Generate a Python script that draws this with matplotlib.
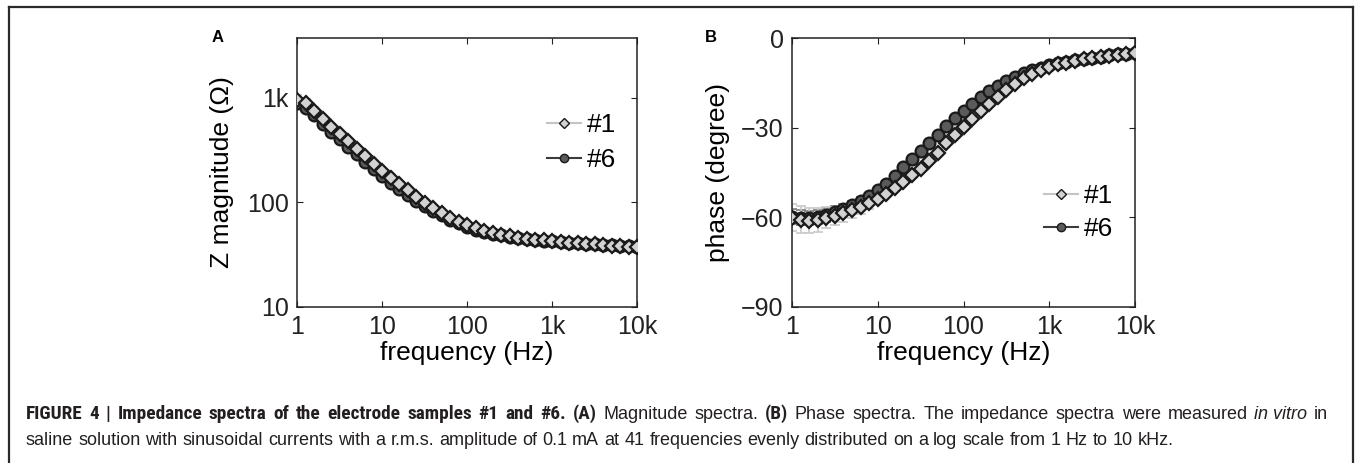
import numpy as np
import matplotlib
matplotlib.use("Agg")
import matplotlib.pyplot as plt
from matplotlib import font_manager
from matplotlib.lines import Line2D

# ---------------- data ----------------
freq = np.logspace(0, 4, 41)  # 41 frequencies, 1 Hz .. 10 kHz (log-spaced, as stated in caption)

mag_s1 = [960, 890, 752, 630, 527, 451, 386, 325, 276, 234,
          199, 172, 149, 130, 113, 99, 89, 79, 71, 65.5,
          60.3, 56.5, 53.5, 51, 49, 47.3, 46, 44.9, 44, 43.2,
          42.5, 41.8, 41.2, 40.6, 40.1, 39.6, 39.1, 38.6, 38.1, 37.6, 37.2]
mag_s6 = [880, 800, 680, 565, 470, 400, 340, 287, 243, 207,
          177, 153, 134, 117, 103, 92, 83, 75, 68, 63,
          58.5, 55, 52.5, 50.2, 48.4, 46.8, 45.6, 44.6, 43.7, 43,
          42.3, 41.7, 41.1, 40.6, 40.1, 39.7, 39.3, 38.9, 38.5, 38.2, 37.8]
mag_err1 = [90, 85, 60, 45, 35, 28, 22, 18, 14, 11,
            8, 6, 5, 4, 3, 2.5, 2, 1.5, 1.2, 1,
            0.9, 0.8, 0.8, 0.7, 0.7, 0.6, 0.6, 0.6, 0.5, 0.5,
            0.5, 0.5, 0.5, 0.5, 0.5, 0.5, 0.5, 0.5, 0.5, 0.5, 0.5]
mag_err6 = [50, 45, 35, 28, 22, 18, 14, 11, 9, 7,
            5, 4, 3, 2.5, 2, 1.6, 1.3, 1.1, 0.9, 0.8,
            0.7, 0.6, 0.6, 0.5, 0.5, 0.5, 0.5, 0.5, 0.4, 0.4,
            0.4, 0.4, 0.4, 0.4, 0.4, 0.4, 0.4, 0.4, 0.4, 0.4, 0.4]

ph_s1 = [-60.1, -60.8, -61.1, -60.8, -60.1, -59.4, -58.6, -57.7, -56.6, -55.3,
         -53.8, -52.1, -50.2, -48.2, -46.0, -43.7, -41.2, -38.6, -35.2, -32.4,
         -29.9, -27.1, -24.5, -22.1, -19.6, -17.4, -15.4, -13.4, -12.0, -10.7,
         -9.6, -8.8, -8.2, -7.6, -7.1, -6.7, -6.3, -5.9, -5.6, -5.3, -5.0]
ph_s6 = [-59.8, -60.2, -60.3, -59.9, -59.2, -58.3, -57.2, -56.0, -54.6, -52.9,
         -51.0, -48.8, -46.1, -43.3, -40.4, -37.9, -35.2, -32.4, -29.5, -26.9,
         -24.3, -22.1, -19.8, -17.7, -15.9, -14.5, -12.9, -11.7, -10.7, -9.9,
         -9.2, -8.5, -8.0, -7.5, -7.0, -6.6, -6.2, -5.8, -5.5, -5.2, -4.9]
ph_err1 = [4.5, 4.5, 4.3, 4.0, 3.5, 3.0, 2.8, 2.6, 2.4, 2.0,
           1.5, 1.2, 1.0, 0.9, 0.8, 0.7, 0.7, 0.6, 0.6, 0.5,
           0.5, 0.5, 0.5, 0.5, 0.5, 0.5, 0.5, 0.5, 0.5, 0.5,
           0.5, 0.5, 0.5, 0.5, 0.5, 0.5, 0.5, 0.5, 0.5, 0.5, 0.5]
ph_err6 = [2.5, 2.5, 2.4, 2.3, 2.2, 2.0, 1.8, 1.6, 1.4, 1.2,
           1.0, 0.9, 0.8, 0.7, 0.6, 0.6, 0.5, 0.5, 0.5, 0.4,
           0.4, 0.4, 0.4, 0.4, 0.4, 0.4, 0.4, 0.4, 0.4, 0.4,
           0.4, 0.4, 0.4, 0.4, 0.4, 0.4, 0.4, 0.4, 0.4, 0.4, 0.4]

series_labels = ["#1", "#6"]
x_ticks = [1, 10, 100, 1000, 10000]
x_ticklabels = ["1", "10", "100", "1k", "10k"]
magA_ticks = [10, 100, 1000]
magA_ticklabels = ["10", "100", "1k"]
ph_ticks = [-90, -60, -30, 0]
ph_ticklabels = ["\u221290", "\u221260", "\u221230", "0"]

# caption pieces: (text, kind) with kind in bold / normal / italic
caption_header = "FIGURE 4 | Impedance spectra of the electrode samples #1 and #6."
caption_line1 = [
    (caption_header, "bold"),
    ("(A)", "bold"),
    ("Magnitude spectra.", "normal"),
    ("(B)", "bold"),
    ("Phase spectra. The impedance spectra were measured", "normal"),
    ("in vitro", "italic"),
    ("in", "normal"),
]
caption_line2 = [
    ("saline solution with sinusoidal currents with a r.m.s. amplitude of 0.1 mA at 41 "
     "frequencies evenly distributed on a log scale from 1 Hz to 10 kHz.", "normal"),
]

# ---------------- style ----------------
W, H = 1355, 463
plt.rcParams["font.family"] = ["Liberation Sans", "DejaVu Sans"]
names = {f.name for f in font_manager.fontManager.ttflist}
bold_family = "Liberation Sans"
for cand in ["Roboto Condensed", "Liberation Sans Narrow", "Open Sans Condensed"]:
    if cand in names:
        bold_family = cand
        break
body_family = "Liberation Sans"

c1_line, c1_face, c1_err = "#c4c4c4", "#d2d2d2", "#c8c8c8"
c6_line, c6_face, c6_err = "#3c3c3c", "#5a5a5a", "#7a7a7a"
edge = "#1a1a1a"
TICK_FS = 18
LABEL_FS = 19

fig = plt.figure(figsize=(W / 100, H / 100), dpi=100)

def px_axes(l, t, r, b):
    return fig.add_axes([l / W, 1 - b / H, (r - l) / W, (b - t) / H])

axA = px_axes(297, 38, 637, 307)
axB = px_axes(792, 38, 1135, 307)

def style_axes(ax):
    for s in ax.spines.values():
        s.set_linewidth(1.1)
        s.set_color("#222222")
    ax.tick_params(which="both", direction="in", top=True, right=True,
                   length=4, width=0.8, colors="#222222", labelsize=TICK_FS, pad=6)
    ax.tick_params(which="minor", length=0)

def plot_series(ax, y1, e1, y6, e6):
    ax.errorbar(freq, y6, yerr=e6, fmt="none", ecolor=c6_err, elinewidth=1.2,
                capsize=3.5, capthick=1.2, zorder=2)
    ax.errorbar(freq, y1, yerr=e1, fmt="none", ecolor=c1_err, elinewidth=1.2,
                capsize=3.5, capthick=1.2, zorder=2)
    ax.plot(freq, y6, "-", color=c6_line, lw=1.5, marker="o", ms=8.5,
            mfc=c6_face, mec=edge, mew=1.6, zorder=3)
    ax.plot(freq, y1, "-", color=c1_line, lw=1.5, marker="D", ms=7.5,
            mfc=c1_face, mec=edge, mew=1.6, zorder=4)

# Panel A
plot_series(axA, mag_s1, mag_err1, mag_s6, mag_err6)
axA.set_xscale("log")
axA.set_yscale("log")
axA.set_xlim(1, 10000)
axA.set_ylim(10, 10 ** 3.57)
axA.set_xticks(x_ticks)
axA.set_xticklabels(x_ticklabels)
axA.set_yticks(magA_ticks)
axA.set_yticklabels(magA_ticklabels)
axA.minorticks_off()
style_axes(axA)
axA.set_xlabel("frequency (Hz)", fontsize=LABEL_FS, labelpad=1)
axA.set_ylabel("Z magnitude (\u03a9)", fontsize=LABEL_FS, labelpad=9)

# Panel B
plot_series(axB, ph_s1, ph_err1, ph_s6, ph_err6)
axB.set_xscale("log")
axB.set_xlim(1, 10000)
axB.set_ylim(-90, 0)
axB.set_xticks(x_ticks)
axB.set_xticklabels(x_ticklabels)
axB.set_yticks(ph_ticks)
axB.set_yticklabels(ph_ticklabels)
axB.minorticks_off()
style_axes(axB)
axB.set_xlabel("frequency (Hz)", fontsize=LABEL_FS, labelpad=1)
axB.set_ylabel("phase (degree)", fontsize=LABEL_FS, labelpad=8)

# legends
def make_legend(ax, x_px, y_px, spacing):
    h1 = Line2D([], [], color=c1_line, lw=1.5, marker="D", ms=5, mfc=c1_face, mec=edge, mew=1)
    h6 = Line2D([], [], color=c6_line, lw=1.5, marker="o", ms=6, mfc=c6_face, mec=edge, mew=1)
    ax.legend([h1, h6], series_labels, loc="upper left",
              bbox_to_anchor=(x_px / W, 1 - y_px / H), bbox_transform=fig.transFigure,
              frameon=False, fontsize=LABEL_FS, handlelength=1.3, handletextpad=0.2,
              borderpad=0, borderaxespad=0, labelspacing=spacing)

make_legend(axA, 547, 113, 0.42)
make_legend(axB, 1044, 184, 0.36)

# panel letters
fig.text(218 / W, 1 - 38 / H, "A", fontsize=12, fontweight="bold", ha="center", va="center")
fig.text(711 / W, 1 - 38 / H, "B", fontsize=12, fontweight="bold", ha="center", va="center")

# frame around the figure
fr_kw = dict(color="#2a2a2a", lw=1.6, transform=fig.transFigure, clip_on=False)
fig.add_artist(Line2D([9 / W, 9 / W], [1 - 7 / H, 0], **fr_kw))
fig.add_artist(Line2D([9 / W, 1353 / W], [1 - 7 / H, 1 - 7 / H], **fr_kw))
fig.add_artist(Line2D([1353 / W, 1353 / W], [1 - 7 / H, 0], **fr_kw))

# ---------------- caption ----------------
renderer = fig.canvas.get_renderer()

def kind_props(kind, sizes):
    if kind == "bold":
        return dict(family=bold_family, fontweight="bold", fontsize=sizes["bold"])
    if kind == "italic":
        return dict(family=body_family, fontstyle="italic", fontsize=sizes["body"])
    return dict(family=body_family, fontsize=sizes["body"])

def width_of(s, props):
    t = fig.text(0, 0, s, **props)
    w = t.get_window_extent(renderer).width
    t.remove()
    return w

# fit sizes: bold header ~513 px, body line 2 ~1148 px
probe = {"bold": 10.0, "body": 10.0}
s_bold = 10.0 * 513.0 / width_of(caption_header, kind_props("bold", probe))
s_body = 10.0 * 1148.0 / width_of(caption_line2[0][0], kind_props("normal", probe))
sizes = {"bold": s_bold, "body": s_body}

def words_of(pieces):
    out = []
    for s, kind in pieces:
        if kind == "italic":
            out.append((s, kind))
        else:
            out.extend((w, kind) for w in s.split(" "))
    return out

def draw_line(pieces, x0, ybase, justify_to=None):
    words = words_of(pieces)
    props = [kind_props(k, sizes) for _, k in words]
    widths = [width_of(w, p) for (w, _), p in zip(words, props)]
    sp = width_of("a a", kind_props("normal", sizes)) - width_of("aa", kind_props("normal", sizes))
    if justify_to is not None and len(words) > 1:
        sp = max(sp, (justify_to - x0 - sum(widths)) / (len(words) - 1))
    x = x0
    for (w, _), p, wd in zip(words, props, widths):
        fig.text(x / W, 1 - ybase / H, w, va="baseline", ha="left", color="#231f20", **p)
        x += wd + sp

draw_line(caption_line1, 26, 419, justify_to=1328)
draw_line(caption_line2, 26, 445)

fig.savefig("out.png", dpi=100)
